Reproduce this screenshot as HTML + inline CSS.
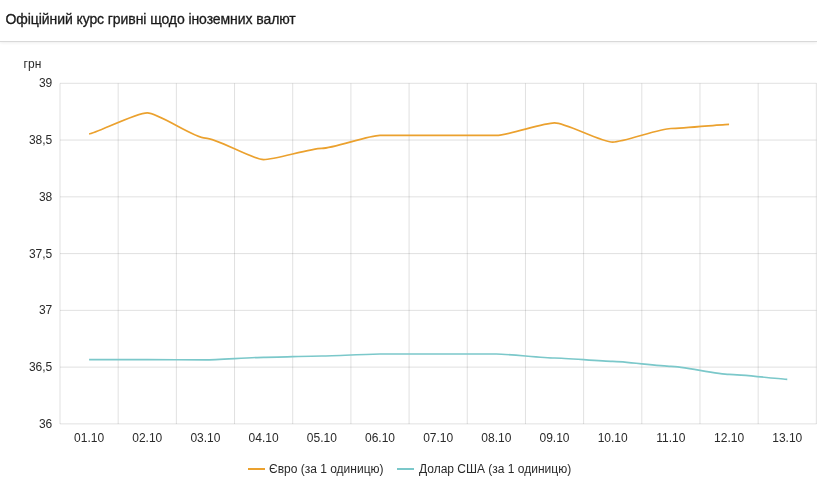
<!DOCTYPE html>
<html lang="uk"><head><meta charset="utf-8"><title>Офіційний курс гривні щодо іноземних валют</title>
<style>
html,body{margin:0;padding:0;background:#fff;}
body{width:817px;height:482px;overflow:hidden;position:relative;font-family:"Liberation Sans",Arial,sans-serif;}
.hdr{position:absolute;left:0;top:0;width:817px;height:41px;border-bottom:1px solid #d9d9d9;box-shadow:0 1px 3px rgba(0,0,0,0.07);}
.hdr h1{margin:0;position:absolute;left:5.5px;top:11px;font-size:14px;line-height:17px;font-weight:400;color:#1a1a1a;white-space:nowrap;letter-spacing:-0.08px;-webkit-text-stroke:0.3px #1a1a1a;}
svg{position:absolute;left:0;top:0;transform:translateZ(0);}
.hdr{transform:translateZ(0);}
svg text{font-family:"Liberation Sans",Arial,sans-serif;font-size:12px;fill:#2a2a2a;}
</style></head><body>
<div class="hdr"><h1>Офіційний курс гривні щодо іноземних валют</h1></div>
<svg width="817" height="482" viewBox="0 0 817 482">
<g stroke="#000" stroke-opacity="0.12" stroke-width="1" fill="none">
<line x1="60" y1="83.30" x2="816.5" y2="83.30"/>
<line x1="60" y1="140.06" x2="816.5" y2="140.06"/>
<line x1="60" y1="196.83" x2="816.5" y2="196.83"/>
<line x1="60" y1="253.60" x2="816.5" y2="253.60"/>
<line x1="60" y1="310.36" x2="816.5" y2="310.36"/>
<line x1="60" y1="367.12" x2="816.5" y2="367.12"/>
<line x1="60" y1="423.89" x2="816.5" y2="423.89"/>
<line x1="60.00" y1="83.3" x2="60.00" y2="424"/>
<line x1="118.18" y1="83.3" x2="118.18" y2="424"/>
<line x1="176.36" y1="83.3" x2="176.36" y2="424"/>
<line x1="234.54" y1="83.3" x2="234.54" y2="424"/>
<line x1="292.72" y1="83.3" x2="292.72" y2="424"/>
<line x1="350.90" y1="83.3" x2="350.90" y2="424"/>
<line x1="409.08" y1="83.3" x2="409.08" y2="424"/>
<line x1="467.26" y1="83.3" x2="467.26" y2="424"/>
<line x1="525.44" y1="83.3" x2="525.44" y2="424"/>
<line x1="583.62" y1="83.3" x2="583.62" y2="424"/>
<line x1="641.80" y1="83.3" x2="641.80" y2="424"/>
<line x1="699.98" y1="83.3" x2="699.98" y2="424"/>
<line x1="758.16" y1="83.3" x2="758.16" y2="424"/>
<line x1="816.34" y1="83.3" x2="816.34" y2="424"/>
</g>
<text x="23.6" y="67.9">грн</text>
<text x="52.3" y="87.30" text-anchor="end">39</text>
<text x="52.3" y="144.06" text-anchor="end">38,5</text>
<text x="52.3" y="200.83" text-anchor="end">38</text>
<text x="52.3" y="257.60" text-anchor="end">37,5</text>
<text x="52.3" y="314.36" text-anchor="end">37</text>
<text x="52.3" y="371.12" text-anchor="end">36,5</text>
<text x="52.3" y="427.89" text-anchor="end">36</text>
<text x="89.09" y="441.8" text-anchor="middle">01.10</text>
<text x="147.27" y="441.8" text-anchor="middle">02.10</text>
<text x="205.45" y="441.8" text-anchor="middle">03.10</text>
<text x="263.63" y="441.8" text-anchor="middle">04.10</text>
<text x="321.81" y="441.8" text-anchor="middle">05.10</text>
<text x="379.99" y="441.8" text-anchor="middle">06.10</text>
<text x="438.17" y="441.8" text-anchor="middle">07.10</text>
<text x="496.35" y="441.8" text-anchor="middle">08.10</text>
<text x="554.53" y="441.8" text-anchor="middle">09.10</text>
<text x="612.71" y="441.8" text-anchor="middle">10.10</text>
<text x="670.89" y="441.8" text-anchor="middle">11.10</text>
<text x="729.07" y="441.8" text-anchor="middle">12.10</text>
<text x="787.25" y="441.8" text-anchor="middle">13.10</text>
<path d="M89.09,133.90C94.91,133.90,135.63,112.90,147.27,112.90C158.91,112.90,193.81,138.10,205.45,138.10C217.09,138.10,251.99,159.60,263.63,159.60C275.27,159.60,310.17,148.40,321.81,148.40C333.45,148.40,368.35,135.40,379.99,135.40C391.63,135.40,426.53,135.40,438.17,135.40C449.81,135.40,484.71,135.40,496.35,135.40C507.99,135.40,542.89,122.90,554.53,122.90C566.17,122.90,601.07,142.10,612.71,142.10C624.35,142.10,659.25,128.50,670.89,128.50C682.53,128.50,723.25,124.40,729.07,124.40" fill="none" stroke="#eba12e" stroke-width="1.7" stroke-linejoin="round"/>
<path d="M89.09,359.70C94.91,359.70,135.63,359.70,147.27,359.70C158.91,359.70,193.81,359.80,205.45,359.80C217.09,359.80,251.99,357.30,263.63,357.30C275.27,357.30,310.17,356.00,321.81,356.00C333.45,356.00,368.35,354.00,379.99,354.00C391.63,354.00,426.53,354.00,438.17,354.00C449.81,354.00,484.71,354.00,496.35,354.00C507.99,354.00,542.89,358.00,554.53,358.00C566.17,358.00,601.07,361.40,612.71,361.40C624.35,361.40,659.25,366.30,670.89,366.30C682.53,366.30,717.43,374.40,729.07,374.40C740.71,374.40,781.43,379.30,787.25,379.30" fill="none" stroke="#7bc8ca" stroke-width="1.7" stroke-linejoin="round"/>
<line x1="248" y1="469" x2="265" y2="469" stroke="#eba12e" stroke-width="2"/>
<text x="269" y="473">Євро (за 1 одиницю)</text>
<line x1="397" y1="469" x2="414" y2="469" stroke="#7bc8ca" stroke-width="2"/>
<text x="419" y="473">Долар США (за 1 одиницю)</text>
</svg>
</body></html>
